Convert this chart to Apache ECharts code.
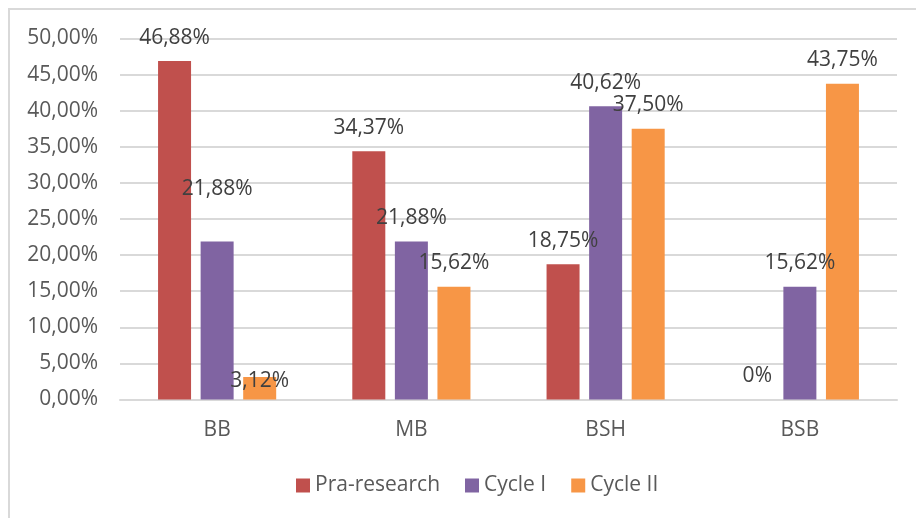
<!DOCTYPE html>
<html>
<head>
<meta charset="utf-8">
<script src="https://cdn.jsdelivr.net/npm/echarts@6/dist/echarts.min.js"></script>
<style>
  html, body { margin: 0; padding: 0; background: #fff; overflow: hidden; }
  #wrap { width: 916px; height: 518px; position: relative; overflow: hidden; }
  #chart { width: 916px; height: 518px; }
  #frame {
    position: absolute; left: 8px; top: 8px; width: 960px; height: 560px;
    border-left: 2px solid #d9d9d9; border-top: 2px solid #d9d9d9;
    pointer-events: none;
  }
</style>
</head>
<body>
<div id="wrap">
  <div id="chart"></div>
  <div id="frame"></div>
</div>
<script>
const categories = ["BB", "MB", "BSH", "BSB"];
const seriesNames = ["Pra-research", "Cycle I", "Cycle II"];
const praResearch = [46.88, 34.37, 18.75, 0];
const cycleI = [21.88, 21.88, 40.62, 15.62];
const cycleII = [3.12, 15.62, 37.5, 43.75];

const colors = ["#c0504d", "#8064a2", "#f79646"];
// a couple of labels were dragged by hand in the original
const labelShift = {
  "Cycle I": [[0, -29], null, null, null],
  "Cycle II": [[0, 28], null, null, null],
};

function pct(v) {
  if (v === 0) return "0%";
  return v.toFixed(2).replace(".", ",") + "%";
}

function buildData(name, values) {
  return values.map((v, i) => {
    let shift = labelShift[name] && labelShift[name][i];
    if (!shift) return v;
    return { value: v, label: { offset: shift } };
  });
}

const font = "Open Sans";
let myChart = echarts.init(document.getElementById("chart"));
myChart.setOption({
  animation: false,
  grid: { left: 120, right: 19, top: 38.5, bottom: 118.5 },
  legend: {
    bottom: 17,
    left: 291,
    itemWidth: 14,
    itemHeight: 14,
    itemGap: 25,
    icon: "rect",
    textStyle: { color: "#595959", fontSize: 21, fontFamily: font },
    data: seriesNames,
  },
  xAxis: {
    type: "category",
    data: categories,
    axisLine: { lineStyle: { color: "#d9d9d9", width: 2 } },
    axisTick: { show: false },
    axisLabel: { color: "#595959", fontSize: 21, fontFamily: font, margin: 20 },
  },
  yAxis: {
    type: "value",
    min: 0,
    max: 50,
    interval: 5,
    axisLine: { show: false },
    axisTick: { show: false },
    splitLine: { lineStyle: { color: "#d9d9d9", width: 2 } },
    axisLabel: {
      color: "#595959",
      fontSize: 21,
      fontFamily: font,
      margin: 22,
      formatter: (v) => v.toFixed(2).replace(".", ",") + "%",
    },
  },
  series: [praResearch, cycleI, cycleII].map((vals, k) => ({
    name: seriesNames[k],
    type: "bar",
    barWidth: 33,
    barGap: "29%",
    itemStyle: { color: colors[k] },
    label: {
      show: true,
      position: "top",
      distance: 13,
      color: "#404040",
      fontSize: 21,
      fontFamily: font,
      formatter: (p) => pct(p.value),
    },
    data: buildData(seriesNames[k], vals),
  })),
});
</script>
</body>
</html>
